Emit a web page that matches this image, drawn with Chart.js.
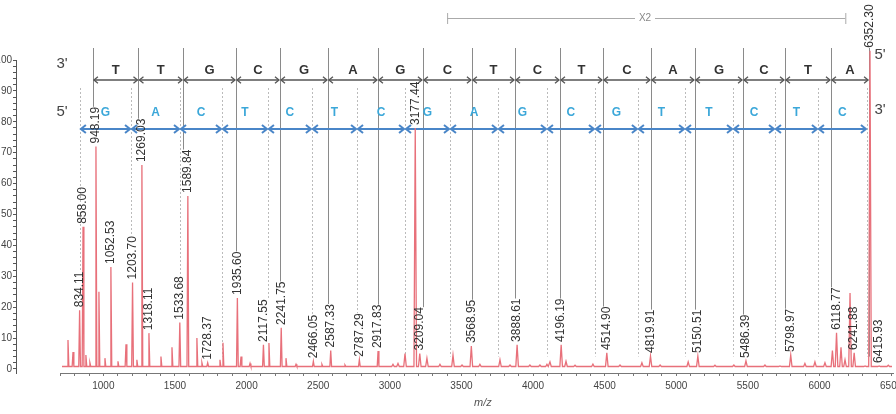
<!DOCTYPE html>
<html>
<head>
<meta charset="utf-8">
<script src="https://cdn.jsdelivr.net/npm/chart.js@4"></script>
<style>
  html, body { margin: 0; padding: 0; background: #fff; }
  canvas { display: block; }
</style>
</head>
<body>
<canvas id="msChart" width="896" height="414"></canvas>
<script>
// Labelled peaks (m/z text, relative intensity %)
const labelText = ['834.11', '858.00', '948.19', '1052.53', '1203.70', '1269.03', '1318.11', '1533.68',
  '1589.84', '1728.37', '1935.60', '2117.55', '2241.75', '2466.05', '2587.33', '2787.29', '2917.83',
  '3177.44', '3209.04', '3568.95', '3888.61', '4196.19', '4514.90', '4819.91', '5150.51', '5486.39',
  '5798.97', '6118.77', '6241.88', '6352.30', '6415.93'];
const labelInt = [19, 46, 72, 33, 28, 66, 11.6, 15,
  56, 2, 23, 7.8, 13.3, 2.5, 6, 3, 5.8,
  78, 5, 7.4, 7.8, 7.8, 5.2, 4.2, 4.2, 2.6,
  4.5, 11.7, 5.2, 103, 1];

// Unlabelled peaks / noise
const minorMz = [753, 788, 878, 906, 969, 1011, 1102, 1158, 1234, 1402, 1479, 1653, 1688, 1814, 1835,
  1961, 2024, 2156, 2275, 2345, 2526, 2687, 3022, 3057, 3106, 3259, 3350, 3441, 3504, 3629, 3769,
  3839, 3978, 4048, 4097, 4118, 4230, 4293, 4418, 4607, 4760, 4887, 5083, 5270, 5402, 5619, 5724,
  5898, 5968, 6038, 6090, 6150, 6178, 6213, 6318, 6480];
const minorInt = [9.4, 5.5, 4.5, 2, 25, 3.5, 2.5, 8, 3, 4, 7, 10, 2, 3, 8.5,
  4, 1.8, 8.4, 3.5, 1.5, 1.5, 1.3, 1.5, 1.8, 5, 3.5, 1.5, 4.5, 1.3, 1.5, 3,
  1.3, 1.3, 1.3, 1.5, 2.3, 2.5, 1.2, 1.6, 1.3, 2, 1.3, 2.3, 1.2, 1.3, 1.3, 1,
  1.8, 2.3, 2, 6, 7, 3, 24.6, 1, 1.2];

// Sequence ladders
const topSeq = ['T', 'T', 'G', 'C', 'G', 'A', 'G', 'C', 'T', 'C', 'T', 'C', 'A', 'G', 'C', 'T', 'A'];
const topCuts = [927, 1245, 1556, 1926, 2233, 2568, 2917, 3231, 3573, 3874, 4188, 4488, 4823, 5130, 5466, 5759, 6080, 6346];
const topDrop = ['948.19', '1269.03', '1589.84', '1935.60', '2241.75', '2587.33', '2917.83', '3209.04', '3568.95',
  '3888.61', '4196.19', '4514.90', '4819.91', '5150.51', '5486.39', '5798.97', '6118.77', null];
const lowSeq = ['G', 'A', 'C', 'T', 'C', 'T', 'C', 'G', 'A', 'G', 'C', 'G', 'T', 'T', 'C', 'T', 'C'];
const lowCuts = [836, 1193, 1535, 1828, 2149, 2456, 2771, 3106, 3420, 3755, 4097, 4432, 4732, 5061, 5396, 5689, 5989, 6331];
const lowDrop = ['834.11', '1203.70', '1533.68', null, '2117.55', '2466.05', '2787.29', null, null,
  null, null, null, null, null, null, null, null, null];
const x2Range = [3400, 6180];

const xTickLabels = [1000, 1500, 2000, 2500, 3000, 3500, 4000, 4500, 5000, 5500, 6000, 6500];
const yTickLabels = [0, 10, 20, 30, 40, 50, 60, 70, 80, 90, 100];

// build the trace as narrow spikes on a low baseline
const baseLevel = 0.8;
const peaks = labelText.map((t, i) => [parseFloat(t), labelInt[i]])
  .concat(minorMz.map((m, i) => [m, minorInt[i]]))
  .sort((a, b) => a[0] - b[0]);
const spectrum = [{ x: 711, y: baseLevel }];
peaks.forEach(([m, h]) => {
  const w = m < 3000 ? 6 : 9;
  spectrum.push({ x: m - w, y: baseLevel }, { x: m, y: h }, { x: m + w, y: baseLevel });
});
spectrum.push({ x: 6506, y: baseLevel });

const labelFont = '12px "Liberation Sans", Arial, sans-serif';

function labelTop(chart, text) {
  const { ctx, scales: { y } } = chart;
  const i = labelText.indexOf(text);
  ctx.font = labelFont;
  return y.getPixelForValue(labelInt[i]) - 3 - ctx.measureText(text).width;
}

function arrowHead(ctx, x, y, dir, s) {
  ctx.beginPath();
  ctx.moveTo(x - dir * s, y - s * 0.8);
  ctx.lineTo(x, y);
  ctx.lineTo(x - dir * s, y + s * 0.8);
  ctx.stroke();
}

function drawRow(chart, cuts, seq, opt) {
  const { ctx, scales: { x } } = chart;
  ctx.strokeStyle = opt.color;
  ctx.lineWidth = opt.width;
  for (let i = 0; i < cuts.length - 1; i++) {
    const a = x.getPixelForValue(cuts[i]) + 1;
    const b = x.getPixelForValue(cuts[i + 1]) - 1;
    ctx.beginPath();
    ctx.moveTo(a, opt.y);
    ctx.lineTo(b, opt.y);
    ctx.stroke();
    arrowHead(ctx, a, opt.y, -1, opt.head);
    arrowHead(ctx, b, opt.y, 1, opt.head);
  }
  ctx.fillStyle = opt.textColor;
  ctx.font = opt.font;
  ctx.textAlign = 'center';
  ctx.textBaseline = 'middle';
  seq.forEach((s, i) => {
    const cx = (x.getPixelForValue(cuts[i]) + x.getPixelForValue(cuts[i + 1])) / 2;
    ctx.fillText(s, cx, opt.textY);
  });
}

const ladderPlugin = {
  id: 'ladder',
  beforeDatasetsDraw(chart) {
    const { ctx, chartArea, scales: { x, y } } = chart;
    ctx.save();

    // x axis line, starting where the spectrum starts
    ctx.strokeStyle = '#777';
    ctx.lineWidth = 1;
    ctx.beginPath();
    ctx.moveTo(x.getPixelForValue(700), chartArea.bottom + 0.5);
    ctx.lineTo(chartArea.right, chartArea.bottom + 0.5);
    ctx.stroke();

    // drop lines: solid for the top ladder, dotted for the lower one
    ctx.strokeStyle = '#8a8a8a';
    topCuts.forEach((m, i) => {
      const px = Math.round(x.getPixelForValue(m)) + 0.5;
      const end = topDrop[i] ? labelTop(chart, topDrop[i]) : y.getPixelForValue(4);
      if (end <= 48) return;
      ctx.beginPath();
      ctx.moveTo(px, 48);
      ctx.lineTo(px, end);
      ctx.stroke();
    });
    ctx.strokeStyle = '#bbb';
    ctx.setLineDash([2, 2]);
    lowCuts.forEach((m, i) => {
      const px = Math.round(x.getPixelForValue(m)) + 0.5;
      const end = lowDrop[i] ? labelTop(chart, lowDrop[i]) : y.getPixelForValue(4);
      if (end <= 88) return;
      ctx.beginPath();
      ctx.moveTo(px, 88);
      ctx.lineTo(px, end);
      ctx.stroke();
    });
    ctx.setLineDash([]);

    // X2 bracket
    const xa = x.getPixelForValue(x2Range[0]);
    const xb = x.getPixelForValue(x2Range[1]);
    const xm = 645;
    ctx.strokeStyle = '#aaa';
    ctx.beginPath();
    ctx.moveTo(xa, 18.5); ctx.lineTo(xm - 10, 18.5);
    ctx.moveTo(xm + 10, 18.5); ctx.lineTo(xb, 18.5);
    ctx.moveTo(xa + 0.5, 13); ctx.lineTo(xa + 0.5, 24);
    ctx.moveTo(xb + 0.5, 13); ctx.lineTo(xb + 0.5, 24);
    ctx.stroke();
    ctx.fillStyle = '#888';
    ctx.font = '10px "Liberation Sans", Arial, sans-serif';
    ctx.textAlign = 'center';
    ctx.textBaseline = 'middle';
    ctx.fillText('X2', xm, 18.5);

    // ladders
    drawRow(chart, topCuts, topSeq, {
      y: 80, textY: 70, color: '#555', width: 1.3, head: 4,
      textColor: '#333', font: 'bold 13px "Liberation Sans", Arial, sans-serif'
    });
    drawRow(chart, lowCuts, lowSeq, {
      y: 129, textY: 113, color: '#4a86c8', width: 2, head: 5,
      textColor: '#3ba7d9', font: 'bold 12px "Liberation Sans", Arial, sans-serif'
    });

    // strand ends
    ctx.fillStyle = '#444';
    ctx.font = '15px "Liberation Sans", Arial, sans-serif';
    ctx.textAlign = 'center';
    ctx.fillText("3'", 62, 64);
    ctx.fillText("5'", 62, 112);
    ctx.fillText("5'", 880, 55);
    ctx.fillText("3'", 880, 110);
    ctx.restore();
  },
  afterDatasetsDraw(chart) {
    const { ctx, scales: { x, y } } = chart;
    ctx.save();
    ctx.fillStyle = '#333';
    ctx.font = labelFont;
    ctx.textAlign = 'left';
    ctx.textBaseline = 'middle';
    labelText.forEach((t, i) => {
      ctx.save();
      ctx.translate(x.getPixelForValue(parseFloat(t)), y.getPixelForValue(labelInt[i]) - 3);
      ctx.rotate(-Math.PI / 2);
      ctx.fillText(t, 0, 0);
      ctx.restore();
    });
    ctx.fillStyle = '#555';
    ctx.font = 'italic 11px "Liberation Sans", Arial, sans-serif';
    ctx.textAlign = 'center';
    ctx.fillText('m/z', x.getPixelForValue(3650), 403);
    ctx.restore();
  }
};

const ctx = document.getElementById('msChart').getContext('2d');
new Chart(ctx, {
  type: 'line',
  data: {
    datasets: [{
      data: spectrum,
      borderColor: '#e8707a',
      borderWidth: 1.3,
      pointRadius: 0,
      tension: 0,
      clip: false
    }]
  },
  options: {
    responsive: false,
    animation: false,
    devicePixelRatio: 1,
    layout: { padding: { top: 60, right: 2, left: 0, bottom: 0 } },
    plugins: { legend: { display: false }, tooltip: { enabled: false } },
    scales: {
      x: {
        type: 'linear',
        min: 390,
        max: 6520,
        border: { display: false },
        grid: { drawOnChartArea: false, tickLength: 3, color: '#777' },
        afterBuildTicks: scale => {
          const t = [];
          for (let v = 700; v <= 6500; v += 100) t.push({ value: v });
          scale.ticks = t;
        },
        afterFit: scale => {
          scale.height = 41;
          scale.paddingLeft = 0;
          scale.paddingRight = 0;
        },
        ticks: {
          autoSkip: false,
          maxRotation: 0,
          padding: 4,
          color: '#444',
          font: { size: 10, family: '"Liberation Sans", Arial, sans-serif' },
          callback: v => xTickLabels.includes(v) ? String(v) : ''
        }
      },
      y: {
        min: -1.3,
        max: 100,
        border: { display: true, color: '#555' },
        grid: { drawOnChartArea: false, tickLength: 3, color: '#555' },
        afterBuildTicks: scale => {
          const t = [];
          for (let v = 0; v <= 100; v += 2) t.push({ value: v });
          scale.ticks = t;
        },
        afterFit: scale => { scale.width = 16; },
        ticks: {
          autoSkip: false,
          padding: 1,
          color: '#444',
          font: { size: 10, family: '"Liberation Sans", Arial, sans-serif' },
          callback: v => yTickLabels.includes(v) ? String(v) : ''
        }
      }
    }
  },
  plugins: [ladderPlugin]
});
</script>
</body>
</html>
